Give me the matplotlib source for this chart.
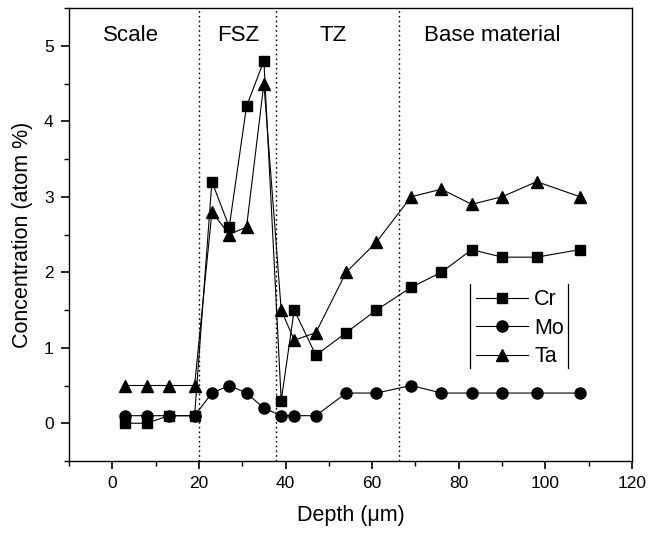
import matplotlib
matplotlib.use("Agg")
import matplotlib.pyplot as plt
from matplotlib.lines import Line2D
from matplotlib.ticker import MultipleLocator

plt.rcParams['font.family'] = ['Liberation Sans', 'DejaVu Sans']

depth = [3, 8, 13, 19, 23, 27, 31, 35, 39, 42, 47, 54, 61, 69, 76, 83, 90, 98, 108]
cr = [0.0, 0.0, 0.1, 0.1, 3.2, 2.6, 4.2, 4.8, 0.3, 1.5, 0.9, 1.2, 1.5, 1.8, 2.0, 2.3, 2.2, 2.2, 2.3]
mo = [0.1, 0.1, 0.1, 0.1, 0.4, 0.5, 0.4, 0.2, 0.1, 0.1, 0.1, 0.4, 0.4, 0.5, 0.4, 0.4, 0.4, 0.4, 0.4]
ta = [0.5, 0.5, 0.5, 0.5, 2.8, 2.5, 2.6, 4.5, 1.5, 1.1, 1.2, 2.0, 2.4, 3.0, 3.1, 2.9, 3.0, 3.2, 3.0]

boundaries = [20, 37.7, 66.3]
zone_labels = ["Scale", "FSZ", "TZ", "Base material"]
zone_x = [4.4, 29, 51, 87.8]

fig = plt.figure(figsize=(6.58, 5.34), dpi=100)
ax = fig.add_axes([69/658, 1-461/534, (632-69)/658, (461-8)/534])

lw = 0.8
ax.plot(depth, cr, color='black', lw=lw, marker='s', ms=7.5, label='Cr')
ax.plot(depth, mo, color='black', lw=lw, marker='o', ms=8, label='Mo')
ax.plot(depth, ta, color='black', lw=lw, marker='^', ms=8.5, label='Ta')

for b in boundaries:
    ax.axvline(b, color='black', lw=1.0, ls=(0, (1.2, 2.2)))

for lab, x in zip(zone_labels, zone_x):
    ax.text(x, 5.13, lab, ha='center', va='center', fontsize=16)

ax.set_xlim(-10, 120)
ax.set_ylim(-0.5, 5.5)
ax.xaxis.set_major_locator(MultipleLocator(20))
ax.xaxis.set_minor_locator(MultipleLocator(10))
ax.yaxis.set_major_locator(MultipleLocator(1))
ax.yaxis.set_minor_locator(MultipleLocator(0.5))
ax.tick_params(which='major', direction='out', length=6, width=1.2, labelsize=12.5, pad=5)
ax.tick_params(which='minor', direction='out', length=3.5, width=1.0)
ax.tick_params(top=False, right=False)
for s in ax.spines.values():
    s.set_linewidth(1.0)

ax.set_xlabel('Depth (\u03bcm)', fontsize=15.5, labelpad=10)
ax.set_ylabel('Concentration (atom %)', fontsize=15.5, labelpad=8)

leg = ax.legend(loc='upper left', bbox_to_anchor=(0.723, 0.379), frameon=False,
                fontsize=15.5, handlelength=2.4, handletextpad=0.3, labelspacing=0.35,
                borderpad=0.0, borderaxespad=0.0)

# legend side bars
ax.add_line(Line2D([0.712, 0.712], [0.205, 0.391], transform=ax.transAxes, color='black', lw=0.9))
ax.add_line(Line2D([0.886, 0.886], [0.205, 0.391], transform=ax.transAxes, color='black', lw=0.9))

fig.savefig('out.png', dpi=100)
